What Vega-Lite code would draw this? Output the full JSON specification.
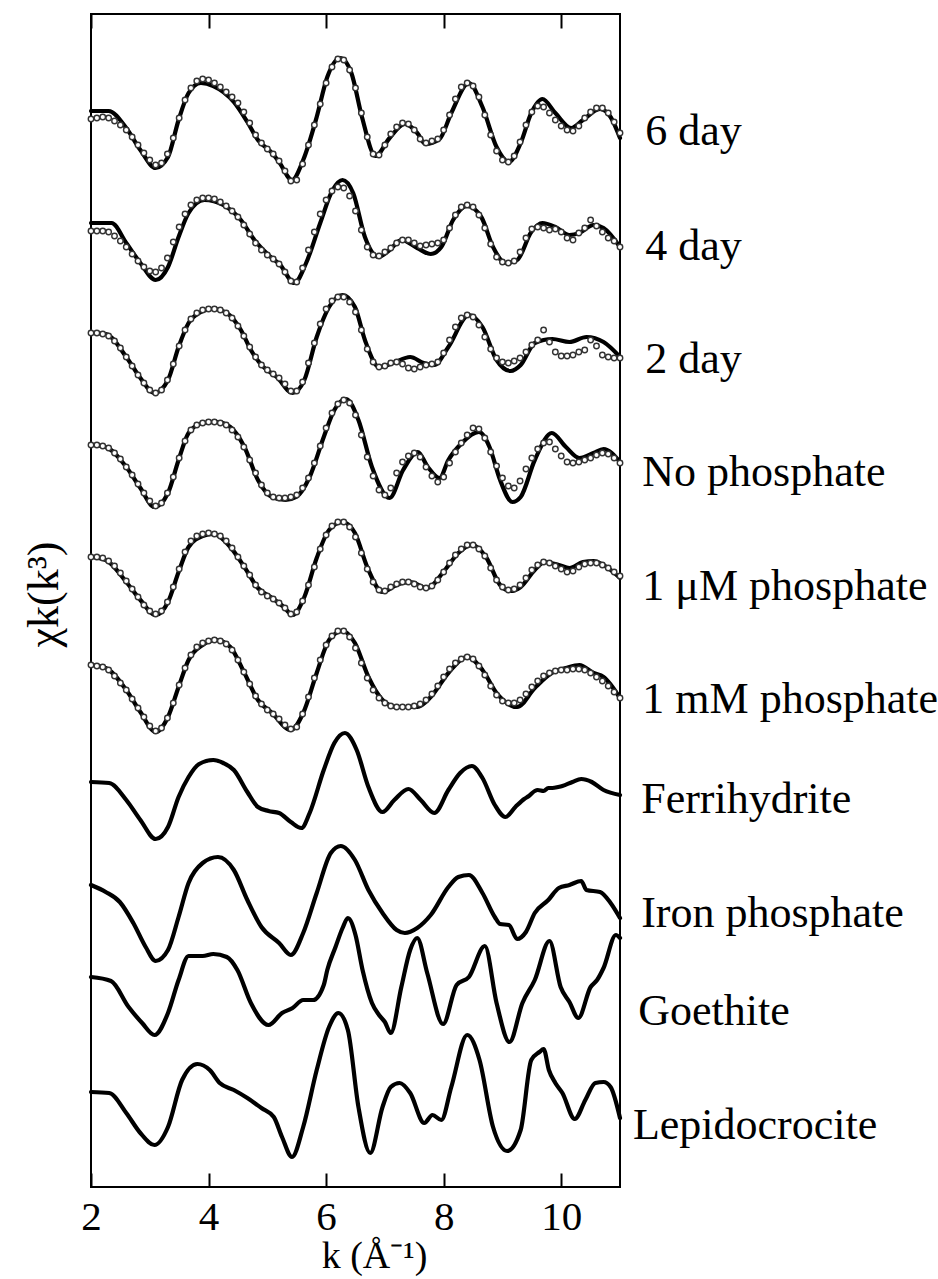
{
  "$schema": "https://vega.github.io/schema/vega-lite/v6.json",
  "width": 529,
  "height": 1173,
  "autosize": {"type": "none"},
  "padding": {"left": 91, "top": 14, "right": 318, "bottom": 92},
  "background": "white",
  "config": {"view": {"stroke": "black", "strokeWidth": 2}},
  "datasets": {
    "measured": [
      {"s":"6 day","k":2.0,"y":1076},{"s":"6 day","k":2.3,"y":1076},{"s":"6 day","k":2.6,"y":1059},{"s":"6 day","k":2.84,"y":1037},{"s":"6 day","k":3.1,"y":1019},{"s":"6 day","k":3.31,"y":1030},{"s":"6 day","k":3.49,"y":1067},{"s":"6 day","k":3.66,"y":1094},{"s":"6 day","k":3.87,"y":1104},{"s":"6 day","k":4.08,"y":1101},{"s":"6 day","k":4.43,"y":1085},{"s":"6 day","k":4.66,"y":1065},{"s":"6 day","k":4.84,"y":1047},{"s":"6 day","k":5.08,"y":1034},{"s":"6 day","k":5.2,"y":1025},{"s":"6 day","k":5.42,"y":1007},{"s":"6 day","k":5.61,"y":1027},{"s":"6 day","k":5.84,"y":1070},{"s":"6 day","k":6.02,"y":1110},{"s":"6 day","k":6.24,"y":1129},{"s":"6 day","k":6.43,"y":1114},{"s":"6 day","k":6.61,"y":1070},{"s":"6 day","k":6.84,"y":1031},{"s":"6 day","k":7.08,"y":1049},{"s":"6 day","k":7.34,"y":1063},{"s":"6 day","k":7.55,"y":1054},{"s":"6 day","k":7.69,"y":1043},{"s":"6 day","k":7.93,"y":1048},{"s":"6 day","k":8.13,"y":1074},{"s":"6 day","k":8.43,"y":1104},{"s":"6 day","k":8.66,"y":1080},{"s":"6 day","k":8.9,"y":1040},{"s":"6 day","k":9.11,"y":1025},{"s":"6 day","k":9.31,"y":1044},{"s":"6 day","k":9.49,"y":1074},{"s":"6 day","k":9.68,"y":1088},{"s":"6 day","k":9.9,"y":1074},{"s":"6 day","k":10.17,"y":1059},{"s":"6 day","k":10.37,"y":1067},{"s":"6 day","k":10.66,"y":1078},{"s":"6 day","k":10.84,"y":1070},{"s":"6 day","k":11.0,"y":1049},

      {"s":"4 day","k":2.0,"y":964},{"s":"4 day","k":2.35,"y":964},{"s":"4 day","k":2.6,"y":944},{"s":"4 day","k":2.84,"y":924},{"s":"4 day","k":3.1,"y":907},{"s":"4 day","k":3.31,"y":920},{"s":"4 day","k":3.49,"y":950},{"s":"4 day","k":3.66,"y":974},{"s":"4 day","k":3.93,"y":987},{"s":"4 day","k":4.25,"y":982},{"s":"4 day","k":4.55,"y":967},{"s":"4 day","k":4.78,"y":947},{"s":"4 day","k":5.02,"y":932},{"s":"4 day","k":5.22,"y":922},{"s":"4 day","k":5.46,"y":904},{"s":"4 day","k":5.66,"y":924},{"s":"4 day","k":5.9,"y":964},{"s":"4 day","k":6.11,"y":997},{"s":"4 day","k":6.28,"y":1007},{"s":"4 day","k":6.46,"y":994},{"s":"4 day","k":6.66,"y":950},{"s":"4 day","k":6.89,"y":930},{"s":"4 day","k":7.08,"y":937},{"s":"4 day","k":7.28,"y":947},{"s":"4 day","k":7.55,"y":939},{"s":"4 day","k":7.78,"y":933},{"s":"4 day","k":7.96,"y":940},{"s":"4 day","k":8.16,"y":967},{"s":"4 day","k":8.4,"y":981},{"s":"4 day","k":8.64,"y":970},{"s":"4 day","k":8.84,"y":940},{"s":"4 day","k":9.05,"y":924},{"s":"4 day","k":9.25,"y":927},{"s":"4 day","k":9.49,"y":955},{"s":"4 day","k":9.68,"y":964},{"s":"4 day","k":9.9,"y":960},{"s":"4 day","k":10.14,"y":952},{"s":"4 day","k":10.31,"y":954},{"s":"4 day","k":10.55,"y":962},{"s":"4 day","k":10.72,"y":959},{"s":"4 day","k":11.0,"y":940},

      {"s":"2 day","k":2.0,"y":854},{"s":"2 day","k":2.25,"y":853},{"s":"2 day","k":2.6,"y":830},{"s":"2 day","k":2.84,"y":809},{"s":"2 day","k":3.08,"y":794},{"s":"2 day","k":3.31,"y":807},{"s":"2 day","k":3.49,"y":840},{"s":"2 day","k":3.66,"y":864},{"s":"2 day","k":3.84,"y":874},{"s":"2 day","k":4.08,"y":878},{"s":"2 day","k":4.31,"y":874},{"s":"2 day","k":4.55,"y":857},{"s":"2 day","k":4.72,"y":837},{"s":"2 day","k":4.9,"y":822},{"s":"2 day","k":5.16,"y":810},{"s":"2 day","k":5.43,"y":794},{"s":"2 day","k":5.63,"y":807},{"s":"2 day","k":5.84,"y":850},{"s":"2 day","k":6.05,"y":880},{"s":"2 day","k":6.28,"y":892},{"s":"2 day","k":6.49,"y":880},{"s":"2 day","k":6.66,"y":847},{"s":"2 day","k":6.9,"y":820},{"s":"2 day","k":7.14,"y":824},{"s":"2 day","k":7.43,"y":830},{"s":"2 day","k":7.66,"y":824},{"s":"2 day","k":7.84,"y":822},{"s":"2 day","k":8.08,"y":840},{"s":"2 day","k":8.43,"y":872},{"s":"2 day","k":8.66,"y":860},{"s":"2 day","k":8.9,"y":827},{"s":"2 day","k":9.14,"y":816},{"s":"2 day","k":9.31,"y":822},{"s":"2 day","k":9.55,"y":844},{"s":"2 day","k":9.85,"y":848},{"s":"2 day","k":10.14,"y":845},{"s":"2 day","k":10.43,"y":850},{"s":"2 day","k":10.72,"y":845},{"s":"2 day","k":11.0,"y":830},

      {"s":"No phosphate","k":2.0,"y":742},{"s":"No phosphate","k":2.25,"y":740},{"s":"No phosphate","k":2.6,"y":720},{"s":"No phosphate","k":2.84,"y":699},{"s":"No phosphate","k":3.08,"y":680},{"s":"No phosphate","k":3.31,"y":694},{"s":"No phosphate","k":3.49,"y":727},{"s":"No phosphate","k":3.66,"y":754},{"s":"No phosphate","k":3.9,"y":764},{"s":"No phosphate","k":4.14,"y":765},{"s":"No phosphate","k":4.37,"y":760},{"s":"No phosphate","k":4.61,"y":740},{"s":"No phosphate","k":4.84,"y":707},{"s":"No phosphate","k":5.08,"y":690},{"s":"No phosphate","k":5.31,"y":687},{"s":"No phosphate","k":5.49,"y":690},{"s":"No phosphate","k":5.72,"y":710},{"s":"No phosphate","k":5.96,"y":750},{"s":"No phosphate","k":6.14,"y":777},{"s":"No phosphate","k":6.34,"y":788},{"s":"No phosphate","k":6.55,"y":767},{"s":"No phosphate","k":6.78,"y":720},{"s":"No phosphate","k":7.08,"y":689},{"s":"No phosphate","k":7.31,"y":717},{"s":"No phosphate","k":7.56,"y":735},{"s":"No phosphate","k":7.73,"y":720},{"s":"No phosphate","k":7.93,"y":709},{"s":"No phosphate","k":8.08,"y":727},{"s":"No phosphate","k":8.31,"y":744},{"s":"No phosphate","k":8.6,"y":755},{"s":"No phosphate","k":8.78,"y":740},{"s":"No phosphate","k":8.96,"y":707},{"s":"No phosphate","k":9.17,"y":685},{"s":"No phosphate","k":9.31,"y":690},{"s":"No phosphate","k":9.55,"y":727},{"s":"No phosphate","k":9.84,"y":754},{"s":"No phosphate","k":10.08,"y":740},{"s":"No phosphate","k":10.31,"y":729},{"s":"No phosphate","k":10.55,"y":734},{"s":"No phosphate","k":10.72,"y":738},{"s":"No phosphate","k":11.0,"y":725},

      {"s":"1 μM phosphate","k":2.0,"y":630},{"s":"1 μM phosphate","k":2.25,"y":627},{"s":"1 μM phosphate","k":2.6,"y":605},{"s":"1 μM phosphate","k":2.84,"y":587},{"s":"1 μM phosphate","k":3.1,"y":572},{"s":"1 μM phosphate","k":3.31,"y":585},{"s":"1 μM phosphate","k":3.49,"y":615},{"s":"1 μM phosphate","k":3.66,"y":640},{"s":"1 μM phosphate","k":3.9,"y":651},{"s":"1 μM phosphate","k":4.08,"y":653},{"s":"1 μM phosphate","k":4.37,"y":640},{"s":"1 μM phosphate","k":4.61,"y":620},{"s":"1 μM phosphate","k":4.84,"y":599},{"s":"1 μM phosphate","k":5.08,"y":589},{"s":"1 μM phosphate","k":5.28,"y":580},{"s":"1 μM phosphate","k":5.43,"y":572},{"s":"1 μM phosphate","k":5.63,"y":590},{"s":"1 μM phosphate","k":5.84,"y":629},{"s":"1 μM phosphate","k":6.05,"y":657},{"s":"1 μM phosphate","k":6.28,"y":665},{"s":"1 μM phosphate","k":6.49,"y":654},{"s":"1 μM phosphate","k":6.7,"y":620},{"s":"1 μM phosphate","k":6.96,"y":595},{"s":"1 μM phosphate","k":7.2,"y":602},{"s":"1 μM phosphate","k":7.43,"y":605},{"s":"1 μM phosphate","k":7.72,"y":599},{"s":"1 μM phosphate","k":8.02,"y":617},{"s":"1 μM phosphate","k":8.25,"y":634},{"s":"1 μM phosphate","k":8.49,"y":642},{"s":"1 μM phosphate","k":8.72,"y":630},{"s":"1 μM phosphate","k":8.96,"y":602},{"s":"1 μM phosphate","k":9.14,"y":596},{"s":"1 μM phosphate","k":9.31,"y":600},{"s":"1 μM phosphate","k":9.55,"y":617},{"s":"1 μM phosphate","k":9.72,"y":625},{"s":"1 μM phosphate","k":9.96,"y":622},{"s":"1 μM phosphate","k":10.14,"y":619},{"s":"1 μM phosphate","k":10.37,"y":625},{"s":"1 μM phosphate","k":10.55,"y":626},{"s":"1 μM phosphate","k":10.72,"y":622},{"s":"1 μM phosphate","k":11.0,"y":609},

      {"s":"1 mM phosphate","k":2.0,"y":522},{"s":"1 mM phosphate","k":2.25,"y":519},{"s":"1 mM phosphate","k":2.6,"y":497},{"s":"1 mM phosphate","k":2.84,"y":475},{"s":"1 mM phosphate","k":3.1,"y":455},{"s":"1 mM phosphate","k":3.31,"y":470},{"s":"1 mM phosphate","k":3.49,"y":500},{"s":"1 mM phosphate","k":3.66,"y":527},{"s":"1 mM phosphate","k":3.9,"y":542},{"s":"1 mM phosphate","k":4.14,"y":547},{"s":"1 mM phosphate","k":4.37,"y":540},{"s":"1 mM phosphate","k":4.61,"y":514},{"s":"1 mM phosphate","k":4.84,"y":487},{"s":"1 mM phosphate","k":5.08,"y":474},{"s":"1 mM phosphate","k":5.4,"y":457},{"s":"1 mM phosphate","k":5.61,"y":474},{"s":"1 mM phosphate","k":5.84,"y":514},{"s":"1 mM phosphate","k":6.05,"y":547},{"s":"1 mM phosphate","k":6.28,"y":556},{"s":"1 mM phosphate","k":6.49,"y":544},{"s":"1 mM phosphate","k":6.72,"y":510},{"s":"1 mM phosphate","k":6.96,"y":487},{"s":"1 mM phosphate","k":7.2,"y":480},{"s":"1 mM phosphate","k":7.55,"y":480},{"s":"1 mM phosphate","k":7.78,"y":490},{"s":"1 mM phosphate","k":8.08,"y":514},{"s":"1 mM phosphate","k":8.4,"y":530},{"s":"1 mM phosphate","k":8.66,"y":517},{"s":"1 mM phosphate","k":8.9,"y":494},{"s":"1 mM phosphate","k":9.25,"y":480},{"s":"1 mM phosphate","k":9.55,"y":499},{"s":"1 mM phosphate","k":9.84,"y":514},{"s":"1 mM phosphate","k":10.08,"y":519},{"s":"1 mM phosphate","k":10.31,"y":522},{"s":"1 mM phosphate","k":10.55,"y":514},{"s":"1 mM phosphate","k":10.72,"y":510},{"s":"1 mM phosphate","k":11.0,"y":489},

      {"s":"Ferrihydrite","k":2.0,"y":405},{"s":"Ferrihydrite","k":2.31,"y":404},{"s":"Ferrihydrite","k":2.6,"y":387},{"s":"Ferrihydrite","k":2.84,"y":367},{"s":"Ferrihydrite","k":3.1,"y":348},{"s":"Ferrihydrite","k":3.31,"y":360},{"s":"Ferrihydrite","k":3.49,"y":390},{"s":"Ferrihydrite","k":3.66,"y":410},{"s":"Ferrihydrite","k":3.84,"y":423},{"s":"Ferrihydrite","k":4.08,"y":427},{"s":"Ferrihydrite","k":4.25,"y":424},{"s":"Ferrihydrite","k":4.43,"y":417},{"s":"Ferrihydrite","k":4.66,"y":395},{"s":"Ferrihydrite","k":4.84,"y":380},{"s":"Ferrihydrite","k":5.02,"y":376},{"s":"Ferrihydrite","k":5.2,"y":374},{"s":"Ferrihydrite","k":5.4,"y":365},{"s":"Ferrihydrite","k":5.58,"y":359},{"s":"Ferrihydrite","k":5.72,"y":374},{"s":"Ferrihydrite","k":5.96,"y":417},{"s":"Ferrihydrite","k":6.14,"y":444},{"s":"Ferrihydrite","k":6.32,"y":454},{"s":"Ferrihydrite","k":6.52,"y":437},{"s":"Ferrihydrite","k":6.72,"y":400},{"s":"Ferrihydrite","k":6.96,"y":375},{"s":"Ferrihydrite","k":7.16,"y":387},{"s":"Ferrihydrite","k":7.4,"y":398},{"s":"Ferrihydrite","k":7.61,"y":387},{"s":"Ferrihydrite","k":7.84,"y":374},{"s":"Ferrihydrite","k":8.08,"y":397},{"s":"Ferrihydrite","k":8.28,"y":414},{"s":"Ferrihydrite","k":8.48,"y":421},{"s":"Ferrihydrite","k":8.66,"y":409},{"s":"Ferrihydrite","k":8.87,"y":382},{"s":"Ferrihydrite","k":9.05,"y":370},{"s":"Ferrihydrite","k":9.22,"y":380},{"s":"Ferrihydrite","k":9.37,"y":388},{"s":"Ferrihydrite","k":9.45,"y":391},{"s":"Ferrihydrite","k":9.55,"y":396},{"s":"Ferrihydrite","k":9.6,"y":397},{"s":"Ferrihydrite","k":9.7,"y":396},{"s":"Ferrihydrite","k":9.78,"y":399},{"s":"Ferrihydrite","k":9.85,"y":399},{"s":"Ferrihydrite","k":9.95,"y":400},{"s":"Ferrihydrite","k":10.02,"y":401},{"s":"Ferrihydrite","k":10.19,"y":405},{"s":"Ferrihydrite","k":10.34,"y":408},{"s":"Ferrihydrite","k":10.52,"y":405},{"s":"Ferrihydrite","k":10.72,"y":397},{"s":"Ferrihydrite","k":11.0,"y":392},

      {"s":"Iron phosphate","k":2.0,"y":302},{"s":"Iron phosphate","k":2.25,"y":295},{"s":"Iron phosphate","k":2.49,"y":285},{"s":"Iron phosphate","k":2.72,"y":264},{"s":"Iron phosphate","k":2.93,"y":240},{"s":"Iron phosphate","k":3.1,"y":226},{"s":"Iron phosphate","k":3.31,"y":237},{"s":"Iron phosphate","k":3.49,"y":270},{"s":"Iron phosphate","k":3.66,"y":304},{"s":"Iron phosphate","k":3.9,"y":324},{"s":"Iron phosphate","k":4.16,"y":330},{"s":"Iron phosphate","k":4.43,"y":317},{"s":"Iron phosphate","k":4.66,"y":287},{"s":"Iron phosphate","k":4.9,"y":260},{"s":"Iron phosphate","k":5.2,"y":244},{"s":"Iron phosphate","k":5.4,"y":232},{"s":"Iron phosphate","k":5.61,"y":254},{"s":"Iron phosphate","k":5.84,"y":294},{"s":"Iron phosphate","k":6.08,"y":334},{"s":"Iron phosphate","k":6.25,"y":341},{"s":"Iron phosphate","k":6.49,"y":327},{"s":"Iron phosphate","k":6.72,"y":297},{"s":"Iron phosphate","k":6.96,"y":274},{"s":"Iron phosphate","k":7.2,"y":257},{"s":"Iron phosphate","k":7.34,"y":254},{"s":"Iron phosphate","k":7.55,"y":259},{"s":"Iron phosphate","k":7.78,"y":272},{"s":"Iron phosphate","k":8.08,"y":300},{"s":"Iron phosphate","k":8.25,"y":310},{"s":"Iron phosphate","k":8.43,"y":312},{"s":"Iron phosphate","k":8.66,"y":294},{"s":"Iron phosphate","k":8.87,"y":270},{"s":"Iron phosphate","k":8.96,"y":263},{"s":"Iron phosphate","k":9.11,"y":262},{"s":"Iron phosphate","k":9.25,"y":248},{"s":"Iron phosphate","k":9.4,"y":255},{"s":"Iron phosphate","k":9.55,"y":274},{"s":"Iron phosphate","k":9.78,"y":287},{"s":"Iron phosphate","k":9.96,"y":299},{"s":"Iron phosphate","k":10.14,"y":302},{"s":"Iron phosphate","k":10.34,"y":306},{"s":"Iron phosphate","k":10.43,"y":297},{"s":"Iron phosphate","k":10.66,"y":295},{"s":"Iron phosphate","k":10.84,"y":284},{"s":"Iron phosphate","k":11.0,"y":269},

      {"s":"Goethite","k":2.0,"y":210},{"s":"Goethite","k":2.34,"y":206},{"s":"Goethite","k":2.64,"y":180},{"s":"Goethite","k":2.87,"y":164},{"s":"Goethite","k":3.08,"y":152},{"s":"Goethite","k":3.31,"y":174},{"s":"Goethite","k":3.49,"y":207},{"s":"Goethite","k":3.66,"y":231},{"s":"Goethite","k":3.9,"y":231},{"s":"Goethite","k":4.08,"y":233},{"s":"Goethite","k":4.31,"y":230},{"s":"Goethite","k":4.49,"y":217},{"s":"Goethite","k":4.72,"y":184},{"s":"Goethite","k":5.02,"y":162},{"s":"Goethite","k":5.25,"y":174},{"s":"Goethite","k":5.43,"y":179},{"s":"Goethite","k":5.61,"y":187},{"s":"Goethite","k":5.78,"y":187},{"s":"Goethite","k":5.96,"y":202},{"s":"Goethite","k":6.02,"y":217},{"s":"Goethite","k":6.16,"y":240},{"s":"Goethite","k":6.28,"y":259},{"s":"Goethite","k":6.37,"y":269},{"s":"Goethite","k":6.5,"y":252},{"s":"Goethite","k":6.62,"y":217},{"s":"Goethite","k":6.78,"y":184},{"s":"Goethite","k":6.9,"y":172},{"s":"Goethite","k":7.0,"y":165},{"s":"Goethite","k":7.1,"y":154},{"s":"Goethite","k":7.28,"y":200},{"s":"Goethite","k":7.43,"y":237},{"s":"Goethite","k":7.55,"y":249},{"s":"Goethite","k":7.72,"y":214},{"s":"Goethite","k":7.99,"y":163},{"s":"Goethite","k":8.22,"y":202},{"s":"Goethite","k":8.43,"y":210},{"s":"Goethite","k":8.7,"y":241},{"s":"Goethite","k":8.9,"y":184},{"s":"Goethite","k":9.12,"y":145},{"s":"Goethite","k":9.34,"y":184},{"s":"Goethite","k":9.55,"y":207},{"s":"Goethite","k":9.8,"y":246},{"s":"Goethite","k":9.99,"y":200},{"s":"Goethite","k":10.14,"y":185},{"s":"Goethite","k":10.29,"y":169},{"s":"Goethite","k":10.5,"y":200},{"s":"Goethite","k":10.61,"y":207},{"s":"Goethite","k":10.72,"y":219},{"s":"Goethite","k":10.93,"y":252},{"s":"Goethite","k":11.0,"y":249},

      {"s":"Lepidocrocite","k":2.0,"y":95},{"s":"Lepidocrocite","k":2.31,"y":94},{"s":"Lepidocrocite","k":2.6,"y":74},{"s":"Lepidocrocite","k":2.84,"y":54},{"s":"Lepidocrocite","k":3.08,"y":42},{"s":"Lepidocrocite","k":3.31,"y":60},{"s":"Lepidocrocite","k":3.55,"y":107},{"s":"Lepidocrocite","k":3.81,"y":123},{"s":"Lepidocrocite","k":4.02,"y":117},{"s":"Lepidocrocite","k":4.19,"y":104},{"s":"Lepidocrocite","k":4.43,"y":97},{"s":"Lepidocrocite","k":4.66,"y":89},{"s":"Lepidocrocite","k":4.9,"y":79},{"s":"Lepidocrocite","k":5.11,"y":70},{"s":"Lepidocrocite","k":5.25,"y":50},{"s":"Lepidocrocite","k":5.42,"y":30},{"s":"Lepidocrocite","k":5.61,"y":60},{"s":"Lepidocrocite","k":5.84,"y":117},{"s":"Lepidocrocite","k":6.05,"y":160},{"s":"Lepidocrocite","k":6.21,"y":174},{"s":"Lepidocrocite","k":6.37,"y":157},{"s":"Lepidocrocite","k":6.55,"y":80},{"s":"Lepidocrocite","k":6.75,"y":34},{"s":"Lepidocrocite","k":6.96,"y":80},{"s":"Lepidocrocite","k":7.1,"y":100},{"s":"Lepidocrocite","k":7.25,"y":104},{"s":"Lepidocrocite","k":7.43,"y":94},{"s":"Lepidocrocite","k":7.67,"y":64},{"s":"Lepidocrocite","k":7.81,"y":72},{"s":"Lepidocrocite","k":7.96,"y":67},{"s":"Lepidocrocite","k":8.13,"y":100},{"s":"Lepidocrocite","k":8.4,"y":152},{"s":"Lepidocrocite","k":8.61,"y":127},{"s":"Lepidocrocite","k":8.84,"y":60},{"s":"Lepidocrocite","k":9.08,"y":36},{"s":"Lepidocrocite","k":9.31,"y":57},{"s":"Lepidocrocite","k":9.49,"y":127},{"s":"Lepidocrocite","k":9.63,"y":135},{"s":"Lepidocrocite","k":9.7,"y":138},{"s":"Lepidocrocite","k":9.79,"y":117},{"s":"Lepidocrocite","k":9.9,"y":104},{"s":"Lepidocrocite","k":10.02,"y":94},{"s":"Lepidocrocite","k":10.23,"y":68},{"s":"Lepidocrocite","k":10.41,"y":87},{"s":"Lepidocrocite","k":10.58,"y":104},{"s":"Lepidocrocite","k":10.72,"y":105},{"s":"Lepidocrocite","k":10.84,"y":100},{"s":"Lepidocrocite","k":11.0,"y":69}
    ],
    "fit": [
      {"s":"6 day","k":2.0,"y":1068},{"s":"6 day","k":2.1,"y":1069},{"s":"6 day","k":2.2,"y":1070},{"s":"6 day","k":2.3,"y":1069},{"s":"6 day","k":2.4,"y":1066},{"s":"6 day","k":2.5,"y":1062},{"s":"6 day","k":2.6,"y":1057},{"s":"6 day","k":2.7,"y":1050},{"s":"6 day","k":2.8,"y":1042},{"s":"6 day","k":2.9,"y":1034},
      {"s":"6 day","k":3.0,"y":1027},{"s":"6 day","k":3.1,"y":1022},{"s":"6 day","k":3.2,"y":1024},{"s":"6 day","k":3.3,"y":1033},{"s":"6 day","k":3.4,"y":1049},{"s":"6 day","k":3.5,"y":1069},{"s":"6 day","k":3.6,"y":1087},{"s":"6 day","k":3.7,"y":1099},{"s":"6 day","k":3.8,"y":1106},{"s":"6 day","k":3.9,"y":1108},
      {"s":"6 day","k":4.0,"y":1107},{"s":"6 day","k":4.1,"y":1104},{"s":"6 day","k":4.2,"y":1100},{"s":"6 day","k":4.3,"y":1095},{"s":"6 day","k":4.4,"y":1090},{"s":"6 day","k":4.5,"y":1084},{"s":"6 day","k":4.6,"y":1075},{"s":"6 day","k":4.7,"y":1064},{"s":"6 day","k":4.8,"y":1052},{"s":"6 day","k":4.9,"y":1044},
      {"s":"6 day","k":5.0,"y":1038},{"s":"6 day","k":5.1,"y":1033},{"s":"6 day","k":5.2,"y":1026},{"s":"6 day","k":5.3,"y":1016},{"s":"6 day","k":5.4,"y":1006},{"s":"6 day","k":5.5,"y":1007},{"s":"6 day","k":5.6,"y":1023},{"s":"6 day","k":5.7,"y":1042},{"s":"6 day","k":5.8,"y":1062},{"s":"6 day","k":5.9,"y":1083},
      {"s":"6 day","k":6.0,"y":1104},{"s":"6 day","k":6.1,"y":1120},{"s":"6 day","k":6.2,"y":1128},{"s":"6 day","k":6.3,"y":1127},{"s":"6 day","k":6.4,"y":1117},{"s":"6 day","k":6.5,"y":1099},{"s":"6 day","k":6.6,"y":1074},{"s":"6 day","k":6.7,"y":1050},{"s":"6 day","k":6.8,"y":1033},{"s":"6 day","k":6.9,"y":1032},
      {"s":"6 day","k":7.0,"y":1042},{"s":"6 day","k":7.1,"y":1053},{"s":"6 day","k":7.2,"y":1060},{"s":"6 day","k":7.3,"y":1064},{"s":"6 day","k":7.4,"y":1063},{"s":"6 day","k":7.5,"y":1057},{"s":"6 day","k":7.6,"y":1048},{"s":"6 day","k":7.7,"y":1044},{"s":"6 day","k":7.8,"y":1046},{"s":"6 day","k":7.9,"y":1048},
      {"s":"6 day","k":8.0,"y":1057},{"s":"6 day","k":8.1,"y":1072},{"s":"6 day","k":8.2,"y":1088},{"s":"6 day","k":8.3,"y":1100},{"s":"6 day","k":8.4,"y":1104},{"s":"6 day","k":8.5,"y":1101},{"s":"6 day","k":8.6,"y":1090},{"s":"6 day","k":8.7,"y":1072},{"s":"6 day","k":8.8,"y":1052},{"s":"6 day","k":8.9,"y":1036},
      {"s":"6 day","k":9.0,"y":1027},{"s":"6 day","k":9.1,"y":1025},{"s":"6 day","k":9.2,"y":1031},{"s":"6 day","k":9.3,"y":1045},{"s":"6 day","k":9.4,"y":1062},{"s":"6 day","k":9.5,"y":1075},{"s":"6 day","k":9.6,"y":1081},{"s":"6 day","k":9.7,"y":1080},{"s":"6 day","k":9.8,"y":1074},{"s":"6 day","k":9.9,"y":1067},
      {"s":"6 day","k":10.0,"y":1061},{"s":"6 day","k":10.1,"y":1057},{"s":"6 day","k":10.2,"y":1056},{"s":"6 day","k":10.3,"y":1061},{"s":"6 day","k":10.4,"y":1069},{"s":"6 day","k":10.5,"y":1075},{"s":"6 day","k":10.6,"y":1079},{"s":"6 day","k":10.7,"y":1079},{"s":"6 day","k":10.8,"y":1074},{"s":"6 day","k":10.9,"y":1065},{"s":"6 day","k":11.0,"y":1054},

      {"s":"4 day","k":2.0,"y":956},{"s":"4 day","k":2.1,"y":956},{"s":"4 day","k":2.2,"y":956},{"s":"4 day","k":2.3,"y":955},{"s":"4 day","k":2.4,"y":951},{"s":"4 day","k":2.5,"y":946},{"s":"4 day","k":2.6,"y":940},{"s":"4 day","k":2.7,"y":933},{"s":"4 day","k":2.8,"y":926},{"s":"4 day","k":2.9,"y":920},
      {"s":"4 day","k":3.0,"y":916},{"s":"4 day","k":3.1,"y":915},{"s":"4 day","k":3.2,"y":919},{"s":"4 day","k":3.3,"y":929},{"s":"4 day","k":3.4,"y":945},{"s":"4 day","k":3.5,"y":960},{"s":"4 day","k":3.6,"y":973},{"s":"4 day","k":3.7,"y":982},{"s":"4 day","k":3.8,"y":987},{"s":"4 day","k":3.9,"y":989},
      {"s":"4 day","k":4.0,"y":989},{"s":"4 day","k":4.1,"y":988},{"s":"4 day","k":4.2,"y":985},{"s":"4 day","k":4.3,"y":981},{"s":"4 day","k":4.4,"y":976},{"s":"4 day","k":4.5,"y":970},{"s":"4 day","k":4.6,"y":962},{"s":"4 day","k":4.7,"y":953},{"s":"4 day","k":4.8,"y":944},{"s":"4 day","k":4.9,"y":937},
      {"s":"4 day","k":5.0,"y":932},{"s":"4 day","k":5.1,"y":928},{"s":"4 day","k":5.2,"y":923},{"s":"4 day","k":5.3,"y":915},{"s":"4 day","k":5.4,"y":906},{"s":"4 day","k":5.5,"y":905},{"s":"4 day","k":5.6,"y":919},{"s":"4 day","k":5.7,"y":937},{"s":"4 day","k":5.8,"y":955},{"s":"4 day","k":5.9,"y":973},
      {"s":"4 day","k":6.0,"y":987},{"s":"4 day","k":6.1,"y":996},{"s":"4 day","k":6.2,"y":1000},{"s":"4 day","k":6.3,"y":999},{"s":"4 day","k":6.4,"y":991},{"s":"4 day","k":6.5,"y":976},{"s":"4 day","k":6.6,"y":957},{"s":"4 day","k":6.7,"y":940},{"s":"4 day","k":6.8,"y":932},{"s":"4 day","k":6.9,"y":931},
      {"s":"4 day","k":7.0,"y":935},{"s":"4 day","k":7.1,"y":939},{"s":"4 day","k":7.2,"y":944},{"s":"4 day","k":7.3,"y":947},{"s":"4 day","k":7.4,"y":947},{"s":"4 day","k":7.5,"y":944},{"s":"4 day","k":7.6,"y":941},{"s":"4 day","k":7.7,"y":942},{"s":"4 day","k":7.8,"y":943},{"s":"4 day","k":7.9,"y":944},
      {"s":"4 day","k":8.0,"y":947},{"s":"4 day","k":8.1,"y":959},{"s":"4 day","k":8.2,"y":972},{"s":"4 day","k":8.3,"y":980},{"s":"4 day","k":8.4,"y":982},{"s":"4 day","k":8.5,"y":980},{"s":"4 day","k":8.6,"y":972},{"s":"4 day","k":8.7,"y":959},{"s":"4 day","k":8.8,"y":943},{"s":"4 day","k":8.9,"y":930},
      {"s":"4 day","k":9.0,"y":925},{"s":"4 day","k":9.1,"y":924},{"s":"4 day","k":9.2,"y":926},{"s":"4 day","k":9.3,"y":935},{"s":"4 day","k":9.4,"y":949},{"s":"4 day","k":9.5,"y":958},{"s":"4 day","k":9.6,"y":960},{"s":"4 day","k":9.7,"y":959},{"s":"4 day","k":9.8,"y":957},{"s":"4 day","k":9.9,"y":958},
      {"s":"4 day","k":10.0,"y":955},{"s":"4 day","k":10.1,"y":949},{"s":"4 day","k":10.2,"y":947},{"s":"4 day","k":10.3,"y":954},{"s":"4 day","k":10.4,"y":959},{"s":"4 day","k":10.5,"y":967},{"s":"4 day","k":10.6,"y":961},{"s":"4 day","k":10.7,"y":955},{"s":"4 day","k":10.8,"y":949},{"s":"4 day","k":10.9,"y":946},{"s":"4 day","k":11.0,"y":940},

      {"s":"2 day","k":2.0,"y":854},{"s":"2 day","k":2.1,"y":854},{"s":"2 day","k":2.2,"y":853},{"s":"2 day","k":2.3,"y":851},{"s":"2 day","k":2.4,"y":846},{"s":"2 day","k":2.5,"y":839},{"s":"2 day","k":2.6,"y":830},{"s":"2 day","k":2.7,"y":821},{"s":"2 day","k":2.8,"y":812},{"s":"2 day","k":2.9,"y":804},
      {"s":"2 day","k":3.0,"y":797},{"s":"2 day","k":3.1,"y":794},{"s":"2 day","k":3.2,"y":797},{"s":"2 day","k":3.3,"y":807},{"s":"2 day","k":3.4,"y":823},{"s":"2 day","k":3.5,"y":841},{"s":"2 day","k":3.6,"y":857},{"s":"2 day","k":3.7,"y":868},{"s":"2 day","k":3.8,"y":874},{"s":"2 day","k":3.9,"y":877},
      {"s":"2 day","k":4.0,"y":878},{"s":"2 day","k":4.1,"y":878},{"s":"2 day","k":4.2,"y":877},{"s":"2 day","k":4.3,"y":874},{"s":"2 day","k":4.4,"y":869},{"s":"2 day","k":4.5,"y":861},{"s":"2 day","k":4.6,"y":851},{"s":"2 day","k":4.7,"y":840},{"s":"2 day","k":4.8,"y":830},{"s":"2 day","k":4.9,"y":822},
      {"s":"2 day","k":5.0,"y":817},{"s":"2 day","k":5.1,"y":813},{"s":"2 day","k":5.2,"y":809},{"s":"2 day","k":5.3,"y":803},{"s":"2 day","k":5.4,"y":796},{"s":"2 day","k":5.5,"y":796},{"s":"2 day","k":5.6,"y":805},{"s":"2 day","k":5.7,"y":824},{"s":"2 day","k":5.8,"y":844},{"s":"2 day","k":5.9,"y":863},
      {"s":"2 day","k":6.0,"y":878},{"s":"2 day","k":6.1,"y":886},{"s":"2 day","k":6.2,"y":890},{"s":"2 day","k":6.3,"y":890},{"s":"2 day","k":6.4,"y":885},{"s":"2 day","k":6.5,"y":875},{"s":"2 day","k":6.6,"y":857},{"s":"2 day","k":6.7,"y":838},{"s":"2 day","k":6.8,"y":825},{"s":"2 day","k":6.9,"y":820},
      {"s":"2 day","k":7.0,"y":821},{"s":"2 day","k":7.1,"y":824},{"s":"2 day","k":7.2,"y":825},{"s":"2 day","k":7.3,"y":823},{"s":"2 day","k":7.4,"y":819},{"s":"2 day","k":7.5,"y":818},{"s":"2 day","k":7.6,"y":820},{"s":"2 day","k":7.7,"y":822},{"s":"2 day","k":7.8,"y":823},{"s":"2 day","k":7.9,"y":825},
      {"s":"2 day","k":8.0,"y":834},{"s":"2 day","k":8.1,"y":847},{"s":"2 day","k":8.2,"y":860},{"s":"2 day","k":8.3,"y":869},{"s":"2 day","k":8.4,"y":872},{"s":"2 day","k":8.5,"y":870},{"s":"2 day","k":8.6,"y":862},{"s":"2 day","k":8.7,"y":850},{"s":"2 day","k":8.8,"y":838},{"s":"2 day","k":8.9,"y":829},
      {"s":"2 day","k":9.0,"y":825},{"s":"2 day","k":9.1,"y":824},{"s":"2 day","k":9.2,"y":826},{"s":"2 day","k":9.3,"y":829},{"s":"2 day","k":9.4,"y":835},{"s":"2 day","k":9.5,"y":842},{"s":"2 day","k":9.6,"y":847},{"s":"2 day","k":9.7,"y":857},{"s":"2 day","k":9.8,"y":845},{"s":"2 day","k":9.9,"y":835},
      {"s":"2 day","k":10.0,"y":831},{"s":"2 day","k":10.1,"y":831},{"s":"2 day","k":10.2,"y":832},{"s":"2 day","k":10.3,"y":835},{"s":"2 day","k":10.4,"y":837},{"s":"2 day","k":10.5,"y":847},{"s":"2 day","k":10.6,"y":841},{"s":"2 day","k":10.7,"y":832},{"s":"2 day","k":10.8,"y":830},{"s":"2 day","k":10.9,"y":829},{"s":"2 day","k":11.0,"y":829},

      {"s":"No phosphate","k":2.0,"y":742},{"s":"No phosphate","k":2.1,"y":742},{"s":"No phosphate","k":2.2,"y":741},{"s":"No phosphate","k":2.3,"y":739},{"s":"No phosphate","k":2.4,"y":734},{"s":"No phosphate","k":2.5,"y":728},{"s":"No phosphate","k":2.6,"y":720},{"s":"No phosphate","k":2.7,"y":712},{"s":"No phosphate","k":2.8,"y":703},{"s":"No phosphate","k":2.9,"y":694},
      {"s":"No phosphate","k":3.0,"y":686},{"s":"No phosphate","k":3.1,"y":681},{"s":"No phosphate","k":3.2,"y":684},{"s":"No phosphate","k":3.3,"y":694},{"s":"No phosphate","k":3.4,"y":710},{"s":"No phosphate","k":3.5,"y":729},{"s":"No phosphate","k":3.6,"y":746},{"s":"No phosphate","k":3.7,"y":757},{"s":"No phosphate","k":3.8,"y":762},{"s":"No phosphate","k":3.9,"y":764},
      {"s":"No phosphate","k":4.0,"y":765},{"s":"No phosphate","k":4.1,"y":765},{"s":"No phosphate","k":4.2,"y":764},{"s":"No phosphate","k":4.3,"y":762},{"s":"No phosphate","k":4.4,"y":757},{"s":"No phosphate","k":4.5,"y":750},{"s":"No phosphate","k":4.6,"y":740},{"s":"No phosphate","k":4.7,"y":727},{"s":"No phosphate","k":4.8,"y":714},{"s":"No phosphate","k":4.9,"y":702},
      {"s":"No phosphate","k":5.0,"y":694},{"s":"No phosphate","k":5.1,"y":690},{"s":"No phosphate","k":5.2,"y":689},{"s":"No phosphate","k":5.3,"y":689},{"s":"No phosphate","k":5.4,"y":690},{"s":"No phosphate","k":5.5,"y":692},{"s":"No phosphate","k":5.6,"y":699},{"s":"No phosphate","k":5.7,"y":709},{"s":"No phosphate","k":5.8,"y":724},{"s":"No phosphate","k":5.9,"y":741},
      {"s":"No phosphate","k":6.0,"y":759},{"s":"No phosphate","k":6.1,"y":774},{"s":"No phosphate","k":6.2,"y":783},{"s":"No phosphate","k":6.3,"y":787},{"s":"No phosphate","k":6.4,"y":784},{"s":"No phosphate","k":6.5,"y":772},{"s":"No phosphate","k":6.6,"y":752},{"s":"No phosphate","k":6.7,"y":730},{"s":"No phosphate","k":6.8,"y":711},{"s":"No phosphate","k":6.9,"y":697},
      {"s":"No phosphate","k":7.0,"y":692},{"s":"No phosphate","k":7.1,"y":699},{"s":"No phosphate","k":7.2,"y":714},{"s":"No phosphate","k":7.3,"y":725},{"s":"No phosphate","k":7.4,"y":731},{"s":"No phosphate","k":7.5,"y":734},{"s":"No phosphate","k":7.6,"y":730},{"s":"No phosphate","k":7.7,"y":720},{"s":"No phosphate","k":7.8,"y":711},{"s":"No phosphate","k":7.9,"y":705},
      {"s":"No phosphate","k":8.0,"y":710},{"s":"No phosphate","k":8.1,"y":724},{"s":"No phosphate","k":8.2,"y":735},{"s":"No phosphate","k":8.3,"y":744},{"s":"No phosphate","k":8.4,"y":752},{"s":"No phosphate","k":8.5,"y":759},{"s":"No phosphate","k":8.6,"y":758},{"s":"No phosphate","k":8.7,"y":749},{"s":"No phosphate","k":8.8,"y":735},{"s":"No phosphate","k":8.9,"y":721},
      {"s":"No phosphate","k":9.0,"y":709},{"s":"No phosphate","k":9.1,"y":701},{"s":"No phosphate","k":9.2,"y":699},{"s":"No phosphate","k":9.3,"y":706},{"s":"No phosphate","k":9.4,"y":718},{"s":"No phosphate","k":9.5,"y":729},{"s":"No phosphate","k":9.6,"y":738},{"s":"No phosphate","k":9.7,"y":744},{"s":"No phosphate","k":9.8,"y":745},{"s":"No phosphate","k":9.9,"y":738},
      {"s":"No phosphate","k":10.0,"y":731},{"s":"No phosphate","k":10.1,"y":725},{"s":"No phosphate","k":10.2,"y":724},{"s":"No phosphate","k":10.3,"y":725},{"s":"No phosphate","k":10.4,"y":727},{"s":"No phosphate","k":10.5,"y":729},{"s":"No phosphate","k":10.6,"y":732},{"s":"No phosphate","k":10.7,"y":734},{"s":"No phosphate","k":10.8,"y":733},{"s":"No phosphate","k":10.9,"y":729},{"s":"No phosphate","k":11.0,"y":724},

      {"s":"1 μM phosphate","k":2.0,"y":630},{"s":"1 μM phosphate","k":2.1,"y":630},{"s":"1 μM phosphate","k":2.2,"y":629},{"s":"1 μM phosphate","k":2.3,"y":626},{"s":"1 μM phosphate","k":2.4,"y":621},{"s":"1 μM phosphate","k":2.5,"y":614},{"s":"1 μM phosphate","k":2.6,"y":606},{"s":"1 μM phosphate","k":2.7,"y":598},{"s":"1 μM phosphate","k":2.8,"y":590},{"s":"1 μM phosphate","k":2.9,"y":582},
      {"s":"1 μM phosphate","k":3.0,"y":576},{"s":"1 μM phosphate","k":3.1,"y":573},{"s":"1 μM phosphate","k":3.2,"y":576},{"s":"1 μM phosphate","k":3.3,"y":585},{"s":"1 μM phosphate","k":3.4,"y":600},{"s":"1 μM phosphate","k":3.5,"y":618},{"s":"1 μM phosphate","k":3.6,"y":635},{"s":"1 μM phosphate","k":3.7,"y":646},{"s":"1 μM phosphate","k":3.8,"y":651},{"s":"1 μM phosphate","k":3.9,"y":653},
      {"s":"1 μM phosphate","k":4.0,"y":654},{"s":"1 μM phosphate","k":4.1,"y":653},{"s":"1 μM phosphate","k":4.2,"y":651},{"s":"1 μM phosphate","k":4.3,"y":646},{"s":"1 μM phosphate","k":4.4,"y":639},{"s":"1 μM phosphate","k":4.5,"y":630},{"s":"1 μM phosphate","k":4.6,"y":621},{"s":"1 μM phosphate","k":4.7,"y":612},{"s":"1 μM phosphate","k":4.8,"y":602},{"s":"1 μM phosphate","k":4.9,"y":595},
      {"s":"1 μM phosphate","k":5.0,"y":591},{"s":"1 μM phosphate","k":5.1,"y":588},{"s":"1 μM phosphate","k":5.2,"y":584},{"s":"1 μM phosphate","k":5.3,"y":579},{"s":"1 μM phosphate","k":5.4,"y":573},{"s":"1 μM phosphate","k":5.5,"y":575},{"s":"1 μM phosphate","k":5.6,"y":586},{"s":"1 μM phosphate","k":5.7,"y":602},{"s":"1 μM phosphate","k":5.8,"y":620},{"s":"1 μM phosphate","k":5.9,"y":638},
      {"s":"1 μM phosphate","k":6.0,"y":652},{"s":"1 μM phosphate","k":6.1,"y":661},{"s":"1 μM phosphate","k":6.2,"y":665},{"s":"1 μM phosphate","k":6.3,"y":665},{"s":"1 μM phosphate","k":6.4,"y":660},{"s":"1 μM phosphate","k":6.5,"y":650},{"s":"1 μM phosphate","k":6.6,"y":634},{"s":"1 μM phosphate","k":6.7,"y":618},{"s":"1 μM phosphate","k":6.8,"y":605},{"s":"1 μM phosphate","k":6.9,"y":597},
      {"s":"1 μM phosphate","k":7.0,"y":596},{"s":"1 μM phosphate","k":7.1,"y":600},{"s":"1 μM phosphate","k":7.2,"y":603},{"s":"1 μM phosphate","k":7.3,"y":605},{"s":"1 μM phosphate","k":7.4,"y":605},{"s":"1 μM phosphate","k":7.5,"y":603},{"s":"1 μM phosphate","k":7.6,"y":600},{"s":"1 μM phosphate","k":7.7,"y":599},{"s":"1 μM phosphate","k":7.8,"y":601},{"s":"1 μM phosphate","k":7.9,"y":607},
      {"s":"1 μM phosphate","k":8.0,"y":615},{"s":"1 μM phosphate","k":8.1,"y":624},{"s":"1 μM phosphate","k":8.2,"y":632},{"s":"1 μM phosphate","k":8.3,"y":638},{"s":"1 μM phosphate","k":8.4,"y":642},{"s":"1 μM phosphate","k":8.5,"y":642},{"s":"1 μM phosphate","k":8.6,"y":638},{"s":"1 μM phosphate","k":8.7,"y":631},{"s":"1 μM phosphate","k":8.8,"y":619},{"s":"1 μM phosphate","k":8.9,"y":607},
      {"s":"1 μM phosphate","k":9.0,"y":600},{"s":"1 μM phosphate","k":9.1,"y":597},{"s":"1 μM phosphate","k":9.2,"y":598},{"s":"1 μM phosphate","k":9.3,"y":602},{"s":"1 μM phosphate","k":9.4,"y":609},{"s":"1 μM phosphate","k":9.5,"y":617},{"s":"1 μM phosphate","k":9.6,"y":622},{"s":"1 μM phosphate","k":9.7,"y":625},{"s":"1 μM phosphate","k":9.8,"y":624},{"s":"1 μM phosphate","k":9.9,"y":621},
      {"s":"1 μM phosphate","k":10.0,"y":618},{"s":"1 μM phosphate","k":10.1,"y":615},{"s":"1 μM phosphate","k":10.2,"y":616},{"s":"1 μM phosphate","k":10.3,"y":620},{"s":"1 μM phosphate","k":10.4,"y":623},{"s":"1 μM phosphate","k":10.5,"y":624},{"s":"1 μM phosphate","k":10.6,"y":624},{"s":"1 μM phosphate","k":10.7,"y":622},{"s":"1 μM phosphate","k":10.8,"y":619},{"s":"1 μM phosphate","k":10.9,"y":615},{"s":"1 μM phosphate","k":11.0,"y":611},

      {"s":"1 mM phosphate","k":2.0,"y":522},{"s":"1 mM phosphate","k":2.1,"y":521},{"s":"1 mM phosphate","k":2.2,"y":520},{"s":"1 mM phosphate","k":2.3,"y":517},{"s":"1 mM phosphate","k":2.4,"y":511},{"s":"1 mM phosphate","k":2.5,"y":504},{"s":"1 mM phosphate","k":2.6,"y":497},{"s":"1 mM phosphate","k":2.7,"y":488},{"s":"1 mM phosphate","k":2.8,"y":479},{"s":"1 mM phosphate","k":2.9,"y":470},
      {"s":"1 mM phosphate","k":3.0,"y":461},{"s":"1 mM phosphate","k":3.1,"y":456},{"s":"1 mM phosphate","k":3.2,"y":459},{"s":"1 mM phosphate","k":3.3,"y":469},{"s":"1 mM phosphate","k":3.4,"y":484},{"s":"1 mM phosphate","k":3.5,"y":502},{"s":"1 mM phosphate","k":3.6,"y":519},{"s":"1 mM phosphate","k":3.7,"y":532},{"s":"1 mM phosphate","k":3.8,"y":540},{"s":"1 mM phosphate","k":3.9,"y":544},
      {"s":"1 mM phosphate","k":4.0,"y":546},{"s":"1 mM phosphate","k":4.1,"y":547},{"s":"1 mM phosphate","k":4.2,"y":546},{"s":"1 mM phosphate","k":4.3,"y":543},{"s":"1 mM phosphate","k":4.4,"y":537},{"s":"1 mM phosphate","k":4.5,"y":527},{"s":"1 mM phosphate","k":4.6,"y":515},{"s":"1 mM phosphate","k":4.7,"y":503},{"s":"1 mM phosphate","k":4.8,"y":491},{"s":"1 mM phosphate","k":4.9,"y":483},
      {"s":"1 mM phosphate","k":5.0,"y":477},{"s":"1 mM phosphate","k":5.1,"y":473},{"s":"1 mM phosphate","k":5.2,"y":468},{"s":"1 mM phosphate","k":5.3,"y":462},{"s":"1 mM phosphate","k":5.4,"y":458},{"s":"1 mM phosphate","k":5.5,"y":460},{"s":"1 mM phosphate","k":5.6,"y":473},{"s":"1 mM phosphate","k":5.7,"y":490},{"s":"1 mM phosphate","k":5.8,"y":509},{"s":"1 mM phosphate","k":5.9,"y":527},
      {"s":"1 mM phosphate","k":6.0,"y":542},{"s":"1 mM phosphate","k":6.1,"y":551},{"s":"1 mM phosphate","k":6.2,"y":556},{"s":"1 mM phosphate","k":6.3,"y":556},{"s":"1 mM phosphate","k":6.4,"y":550},{"s":"1 mM phosphate","k":6.5,"y":539},{"s":"1 mM phosphate","k":6.6,"y":524},{"s":"1 mM phosphate","k":6.7,"y":509},{"s":"1 mM phosphate","k":6.8,"y":497},{"s":"1 mM phosphate","k":6.9,"y":489},
      {"s":"1 mM phosphate","k":7.0,"y":484},{"s":"1 mM phosphate","k":7.1,"y":481},{"s":"1 mM phosphate","k":7.2,"y":480},{"s":"1 mM phosphate","k":7.3,"y":480},{"s":"1 mM phosphate","k":7.4,"y":480},{"s":"1 mM phosphate","k":7.5,"y":481},{"s":"1 mM phosphate","k":7.6,"y":483},{"s":"1 mM phosphate","k":7.7,"y":487},{"s":"1 mM phosphate","k":7.8,"y":493},{"s":"1 mM phosphate","k":7.9,"y":501},
      {"s":"1 mM phosphate","k":8.0,"y":510},{"s":"1 mM phosphate","k":8.1,"y":518},{"s":"1 mM phosphate","k":8.2,"y":524},{"s":"1 mM phosphate","k":8.3,"y":528},{"s":"1 mM phosphate","k":8.4,"y":530},{"s":"1 mM phosphate","k":8.5,"y":528},{"s":"1 mM phosphate","k":8.6,"y":521},{"s":"1 mM phosphate","k":8.7,"y":512},{"s":"1 mM phosphate","k":8.8,"y":501},{"s":"1 mM phosphate","k":8.9,"y":492},
      {"s":"1 mM phosphate","k":9.0,"y":486},{"s":"1 mM phosphate","k":9.1,"y":484},{"s":"1 mM phosphate","k":9.2,"y":484},{"s":"1 mM phosphate","k":9.3,"y":487},{"s":"1 mM phosphate","k":9.4,"y":493},{"s":"1 mM phosphate","k":9.5,"y":500},{"s":"1 mM phosphate","k":9.6,"y":506},{"s":"1 mM phosphate","k":9.7,"y":511},{"s":"1 mM phosphate","k":9.8,"y":514},{"s":"1 mM phosphate","k":9.9,"y":516},
      {"s":"1 mM phosphate","k":10.0,"y":517},{"s":"1 mM phosphate","k":10.1,"y":517},{"s":"1 mM phosphate","k":10.2,"y":518},{"s":"1 mM phosphate","k":10.3,"y":518},{"s":"1 mM phosphate","k":10.4,"y":517},{"s":"1 mM phosphate","k":10.5,"y":514},{"s":"1 mM phosphate","k":10.6,"y":510},{"s":"1 mM phosphate","k":10.7,"y":506},{"s":"1 mM phosphate","k":10.8,"y":501},{"s":"1 mM phosphate","k":10.9,"y":495},{"s":"1 mM phosphate","k":11.0,"y":489}
    ],
    "labels": [
      {"name":"6 day","k":11.43,"y":1055},
      {"name":"4 day","k":11.43,"y":940},
      {"name":"2 day","k":11.43,"y":827},
      {"name":"No phosphate","k":11.38,"y":714},
      {"name":"1 μM phosphate","k":11.38,"y":600},
      {"name":"1 mM phosphate","k":11.38,"y":487},
      {"name":"Ferrihydrite","k":11.36,"y":387},
      {"name":"Iron phosphate","k":11.36,"y":273},
      {"name":"Goethite","k":11.31,"y":175},
      {"name":"Lepidocrocite","k":11.22,"y":61}
    ]
  },
  "layer": [
    {
      "data": {"name": "measured"},
      "mark": {"type": "line", "interpolate": "monotone", "color": "black", "strokeWidth": 4.2, "strokeCap": "round", "strokeJoin": "round"},
      "encoding": {
        "x": {
          "field": "k", "type": "quantitative",
          "scale": {"domain": [2, 11], "nice": false, "zero": false},
          "axis": {
            "orient": "bottom", "values": [2, 4, 6, 8, 10], "grid": false, "domain": false,
            "tickSize": -14, "tickWidth": 2, "tickColor": "black",
            "labelFont": "Liberation Serif", "labelFontSize": 41, "labelColor": "black",
            "labelPadding": 24, "labelFlush": false, "labelOverlap": false,
            "title": "k (Å⁻¹)", "titleFont": "Liberation Serif", "titleFontSize": 38,
            "titleFontWeight": "normal", "titleColor": "black", "titlePadding": 0, "titleX": 283
          }
        },
        "y": {
          "field": "y", "type": "quantitative",
          "scale": {"domain": [0, 1173], "nice": false, "zero": false},
          "axis": {
            "orient": "left", "ticks": false, "labels": false, "domain": false, "grid": false,
            "title": "χk(k³)", "titleFont": "Liberation Serif", "titleFontSize": 44,
            "titleFontWeight": "normal", "titleColor": "black", "titlePadding": 25, "titleY": 580
          }
        },
        "detail": {"field": "s"}
      }
    },
    {
      "data": {"name": "fit"},
      "mark": {"type": "circle", "size": 30, "fill": "white", "stroke": "#333333", "strokeWidth": 1.4, "opacity": 1},
      "encoding": {
        "x": {
          "field": "k", "type": "quantitative",
          "axis": {
            "orient": "top", "values": [2, 4, 6, 8, 10], "grid": false, "domain": false,
            "labels": false, "tickSize": -14, "tickWidth": 2, "tickColor": "black", "title": null
          }
        },
        "y": {
          "field": "y", "type": "quantitative",
          "axis": {
            "orient": "left", "ticks": false, "labels": false, "domain": false, "grid": false,
            "title": "χk(k³)", "titleFont": "Liberation Serif", "titleFontSize": 44,
            "titleFontWeight": "normal", "titleColor": "black", "titlePadding": 25, "titleY": 580
          }
        }
      }
    },
    {
      "data": {"name": "labels"},
      "mark": {"type": "text", "align": "left", "baseline": "middle", "font": "Liberation Serif", "fontSize": 44, "color": "black"},
      "encoding": {
        "x": {"field": "k", "type": "quantitative", "axis": null},
        "y": {
          "field": "y", "type": "quantitative",
          "axis": {
            "orient": "left", "ticks": false, "labels": false, "domain": false, "grid": false,
            "title": "χk(k³)", "titleFont": "Liberation Serif", "titleFontSize": 44,
            "titleFontWeight": "normal", "titleColor": "black", "titlePadding": 25, "titleY": 580
          }
        },
        "text": {"field": "name"}
      }
    }
  ],
  "resolve": {"axis": {"x": "independent"}}
}
